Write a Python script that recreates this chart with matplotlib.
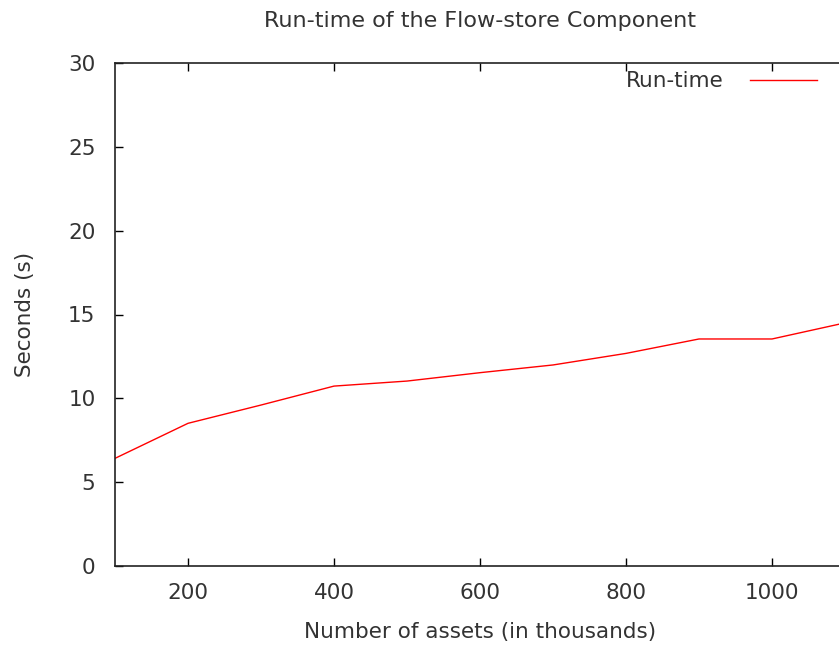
import matplotlib
matplotlib.use("Agg")
import matplotlib.pyplot as plt

# Dados
assets = [100, 200, 300, 400, 500, 600, 700, 800, 900, 1000, 1100]
runtime = [6.42, 8.51, 9.6, 10.73, 11.03, 11.53, 11.99, 12.68, 13.54, 13.54, 14.5]
xticks = [200, 400, 600, 800, 1000]
yticks = [0, 5, 10, 15, 20, 25, 30]

plt.rcParams['font.family'] = ['DejaVu Sans']

fig = plt.figure(figsize=(8.39, 6.45), dpi=100)
# eixo estende-se um pouco além da borda direita, como no original
ax = fig.add_axes([115 / 839, 79 / 645, 730 / 839, 503 / 645])

ax.plot(assets, runtime, color='#ff0000', lw=1, label='Run-time')

ax.set_xlim(100, 1100)
ax.set_ylim(0, 30)
ax.set_xticks(xticks)
ax.set_yticks(yticks)
ax.tick_params(direction='in', length=6, width=1, top=True, right=False,
               labelsize=15.5, colors='black', labelcolor='#333333')
ax.tick_params(axis='y', pad=14)
ax.tick_params(axis='x', pad=12)

for s in ax.spines.values():
    s.set_linewidth(1.2)
    s.set_color('#222222')

ax.set_title("Run-time of the Flow-store Component", fontsize=16, color='#333333', pad=26)
ax.set_xlabel("Number of assets (in thousands)", fontsize=15.5, color='#333333', labelpad=14)
ax.set_ylabel("Seconds (s)", fontsize=15.5, color='#333333', labelpad=24)

leg = ax.legend(loc='upper right', bbox_to_anchor=(836 / 839, 1 - 52 / 645),
                bbox_transform=fig.transFigure, frameon=False, markerfirst=False,
                fontsize=15.5, handlelength=3.1, handletextpad=1.2)
for t in leg.get_texts():
    t.set_color('#333333')

fig.savefig("out.png", dpi=100)
